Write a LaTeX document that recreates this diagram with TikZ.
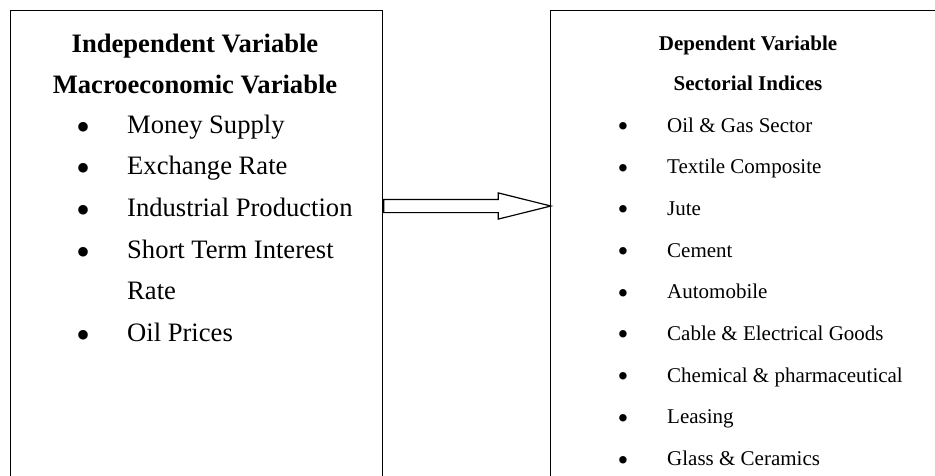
\documentclass[tikz,border=0pt]{standalone}
\usepackage{fontspec}
\setmainfont{Liberation Serif}
\usetikzlibrary{shapes.arrows}

\tikzset{
	box/.style={draw, line width=1.2pt, inner sep=0pt, anchor=north west},
	bigtxt/.style={font=\fontsize{26.6}{30}\selectfont, inner sep=0pt},
	smalltxt/.style={font=\fontsize{21}{25}\selectfont, inner sep=0pt},
	dot/.style={font=\fontsize{#1}{#1}\selectfont, inner sep=0pt, anchor=center},
	flow/.style={single arrow, draw, line width=1.2pt, inner xsep=0pt, inner ysep=6pt,
		minimum height=167pt, minimum width=25pt,
		single arrow head extend=6.5pt, single arrow tip angle=28}
}

\begin{document}
\begin{tikzpicture}[x=1pt,y=-1pt]
	\useasboundingbox (0,0) rectangle (935,475);
	\clip (0,0) rectangle (935,475);
	\node[box, minimum width=372pt, minimum height=480pt] (lbox) at (10,10) {};
	\node[box, minimum width=400pt, minimum height=480pt] (rbox) at (550,10) {};
	% left side
	\node[bigtxt, font=\fontsize{26.6}{30}\selectfont\bfseries, anchor=base] (indep) at (195,52) {Independent Variable};
	\node[bigtxt, font=\fontsize{26.6}{30}\selectfont\bfseries, anchor=base] (macro) at (195,93) {Macroeconomic Variable};
	\foreach \T/\B [count=\Z] in {Money Supply/1, Exchange Rate/1,
	Industrial Production/1, Short Term Interest/1, Rate/0, Oil Prices/1}
	{\node[bigtxt, anchor=base west] (li\Z) at (127,133+41.7*\Z-41.7) {\T};
	\ifnum\B=1 \node[dot=40] (lb\Z) at (84,131+41.7*\Z-41.7) {\textbullet};\fi}
	% right side
	\node[smalltxt, font=\fontsize{21}{25}\selectfont\bfseries, anchor=base] (dep) at (748,50) {Dependent Variable};
	\node[smalltxt, font=\fontsize{21}{25}\selectfont\bfseries, anchor=base] (sect) at (748,90) {Sectorial Indices};
	\foreach \T [count=\Z] in {Oil \& Gas Sector, Textile Composite, Jute, Cement,
	Automobile, Cable \& Electrical Goods, Chemical \& pharmaceutical, Leasing,
	Glass \& Ceramics}
	{\node[smalltxt, anchor=base west] (ri\Z) at (667,132+41.7*\Z-41.7) {\T};
	\node[dot=31] (rb\Z) at (623,129.5+41.7*\Z-41.7) {\textbullet};}
	% arrow
	\node[flow, anchor=west] (arr) at (lbox.east |- 0,206) {};
\end{tikzpicture}
\end{document}
